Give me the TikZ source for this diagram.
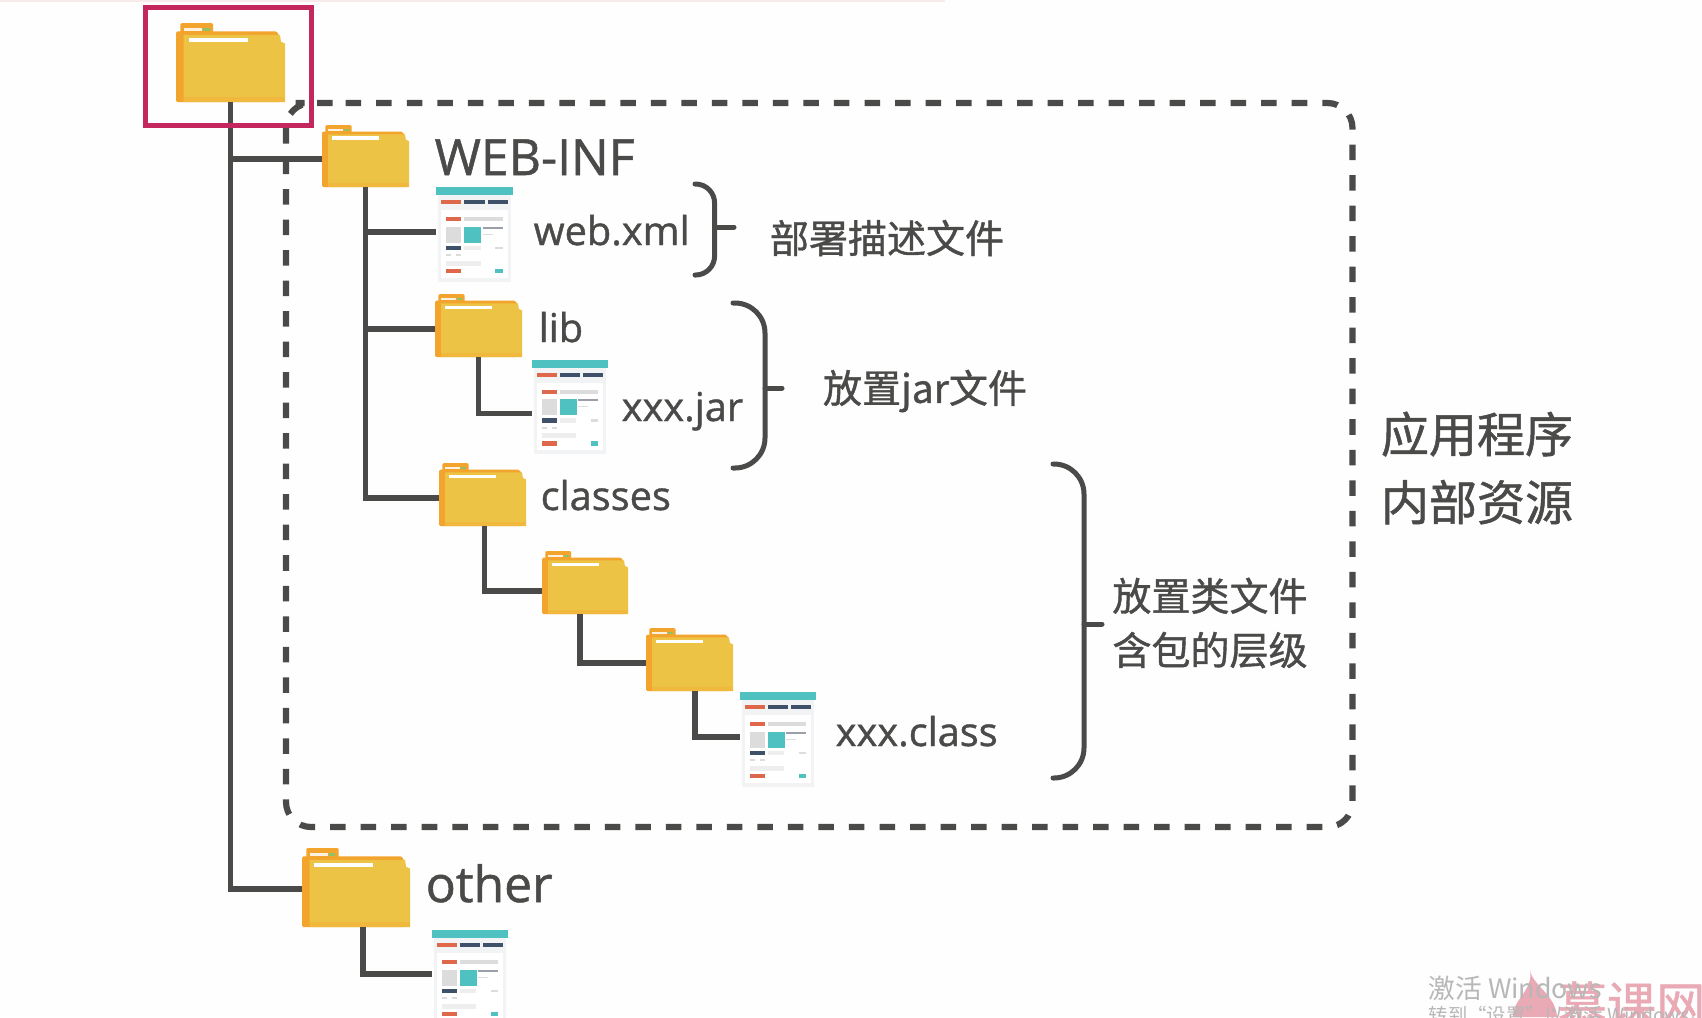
\documentclass[tikz,border=0pt]{standalone}
\usepackage{fontspec}
\setmainfont[FakeBold=1]{Open Sans}
\newfontfamily\cjk[FakeBold=1]{Noto Sans CJK SC}
\newfontfamily\cjkplain{Noto Sans CJK SC}
\usetikzlibrary{calc}

\definecolor{inkgray}{HTML}{4A4B49}
\definecolor{boxred}{HTML}{C3275D}
\definecolor{tabgreen}{HTML}{8FC06A}
\definecolor{foldback}{HTML}{F2A42C}
\definecolor{foldfront}{HTML}{ECC345}
\definecolor{foldedge}{HTML}{F0B93E}
\definecolor{docteal}{HTML}{4FC1C1}
\definecolor{docnavy}{HTML}{3F5169}
\definecolor{docred}{HTML}{E0684A}
\definecolor{docpanel}{HTML}{F2F3F4}
\definecolor{docgray}{HTML}{DCDCDC}
\definecolor{docline}{HTML}{9A9FA8}
\definecolor{docpale}{HTML}{EEEEEE}
\definecolor{markpink}{HTML}{E9A9B5}
\definecolor{markgray}{HTML}{B7B7B7}
\definecolor{pagewhite}{HTML}{FEFEFE}

\tikzset{
    link/.style={draw=inkgray, line width=0.058cm},
    bracket/.style={draw=inkgray, line width=0.05cm, line cap=round},
    itembox/.style={inner sep=0pt, outer sep=0pt},
    bigname/.style={inkgray, anchor=base west, inner sep=0pt, font=\fontsize{14.2}{17}\selectfont},
    filename/.style={inkgray, anchor=base west, inner sep=0pt, font=\fontsize{11.3}{14}\selectfont},
    note/.style={inkgray, inner sep=0pt, align=center, font=\cjk\fontsize{11.1}{15.4}\selectfont},
    sidenote/.style={inkgray, inner sep=0pt, align=center, font=\cjk\fontsize{13.66}{19.35}\selectfont},
}

% name, left, top, width, height
\newcommand{\folder}[5]{
    \begin{scope}[shift={(#2,#3)}, xscale=#4, yscale=#5]
        \fill[foldback, rounded corners=0.4pt] (0.04,0) rectangle (0.34,0.2);
        \fill[white!85!foldback] (0.07,0.065) rectangle (0.24,0.10);
        \fill[tabgreen] (0.25,0.065) rectangle (0.31,0.10);
        \fill[foldback, rounded corners=0.4pt] (0,0.106) -- (0.925,0.106) -- (0.96,0.2) -- (0.96,1) -- (0,1) -- cycle;
        \fill[foldfront] (0.07,0.15) -- (0.955,0.15) -- (0.96,0.235) -- (1,0.26) -- (1,1) -- (0.07,1) -- cycle;
        \fill[foldedge] (0.07,0.94) rectangle (1,1);
        \fill[white] (0.115,0.185) rectangle (0.66,0.24);
    \end{scope}
    \node[itembox, anchor=south west, minimum width=#4*0.01cm, minimum height=0.894*#5*0.01cm] (#1) at (#2,#3+#5) {};
}

% name, left, top, width, height
\newcommand{\docicon}[5]{
    \begin{scope}[shift={(#2,#3)}, xscale=#4, yscale=#5]
        \fill[docpanel] (0.02,0) rectangle (0.98,1);
        \fill[white] (0.06,0.24) rectangle (0.94,0.96);
        \fill[docteal] (0,0) rectangle (1,0.08);
        \foreach \c/\ua/\ub/\va/\vb in {
            docred/0.07/0.33/0.14/0.18, docnavy/0.37/0.63/0.14/0.18, docnavy/0.67/0.93/0.14/0.18,
            docred/0.13/0.33/0.32/0.36, docgray/0.37/0.87/0.32/0.36,
            docgray/0.13/0.33/0.42/0.59, docteal/0.37/0.59/0.42/0.59,
            docline/0.61/0.87/0.42/0.44, docgray/0.61/0.74/0.49/0.505,
            docnavy/0.13/0.33/0.62/0.665, docpale/0.37/0.58/0.62/0.665, docgray/0.77/0.87/0.63/0.655,
            docgray/0.13/0.2/0.71/0.73, docgray/0.26/0.33/0.71/0.73,
            docpale/0.13/0.58/0.78/0.83,
            docred/0.13/0.33/0.865/0.91, docteal/0.77/0.87/0.865/0.91}
            \fill[\c] (\ua,\va) rectangle (\ub,\vb);
    \end{scope}
    \node[itembox, anchor=north west, minimum width=#4*0.01cm, minimum height=#5*0.01cm] (#1) at (#2,#3) {};
}

\begin{document}
\begin{tikzpicture}[x=0.01cm, y=-0.01cm]
    \useasboundingbox (0,0) rectangle (1702,1017);
    \clip (0,0) rectangle (1702,1017);
    \fill[pagewhite] (0,0) rectangle (1702,1017);
    \fill[markpink!25] (0,0) rectangle (945,2);

    % application area
    \draw[inkgray, line width=0.062cm, dash pattern=on 0.155cm off 0.15cm, rounded corners=0.25cm]
        (320.7,103) -- (1352.5,103) -- (1352.5,827) -- (286,827) -- (286,103) -- cycle;

    % folders and files
    \folder{root}{176}{23}{109}{79}
    \folder{webinf}{322}{125}{87}{62}
    \folder{weblib}{435}{294}{87}{63}
    \folder{classes}{439}{463}{87}{63}
    \folder{pkgone}{542}{551}{86}{63}
    \folder{pkgtwo}{646}{628}{87}{63}
    \folder{other}{302}{848}{108}{79}
    \docicon{webxml}{436}{187}{77}{95}
    \docicon{xxxjar}{532}{360}{76}{94}
    \docicon{xxxclass}{740}{692}{76}{95}
    \docicon{otherdoc}{432}{930}{76}{95}

    % connectors
    \coordinate (webxmlin) at ($(webxml.west)+(0,-2.5)$);
    \coordinate (xxxjarin) at ($(xxxjar.west)+(0,6.5)$);
    \coordinate (xxxclassin) at ($(xxxclass.west)+(0,-2.5)$);
    \coordinate (otherdocin) at ($(otherdoc.west)+(0,-3.5)$);
    \coordinate (pkgonein) at ($(pkgone.west)+(0,5)$);
    \coordinate (otherin) at ($(other.west)+(0,-3)$);
    \coordinate (pkgoneout) at ($(pkgone.south)+(-5,0)$);
    \coordinate (pkgtwoout) at ($(pkgtwo.south)+(5.5,0)$);
    \coordinate (otherout) at ($(other.south)+(7,0)$);
    \coordinate (classesout) at ($(classes.south)+(2,0)$);
    \draw[link] (root.south) |- (otherin);
    \draw[link] (root.south |- webinf.west) -- (webinf.west);
    \draw[link] (webinf.south) |- (classes.west);
    \draw[link] (webinf.south |- webxmlin) -- (webxmlin);
    \draw[link] (webinf.south |- weblib.west) -- (weblib.west);
    \draw[link] (weblib.south) |- (xxxjarin);
    \draw[link] (classesout) |- (pkgonein);
    \draw[link] (pkgoneout) |- (pkgtwo.west);
    \draw[link] (pkgtwoout) |- (xxxclassin);
    \draw[link] (otherout) |- (otherdocin);

    % selection box
    \draw[boxred, line width=0.055cm] (145.5,7.5) rectangle (311.5,125.5);

    % names
    \node[bigname] (webinfname) at (434,175) {WEB-INF};
    \node[filename] (webxmlname) at (533,245) {web.xml};
    \node[filename] (libname) at (538,342) {lib};
    \node[filename] (jarname) at (621,421) {xxx.jar};
    \node[filename] (classesname) at (540,510) {classes};
    \node[filename] (classname) at (835,746) {xxx.class};
    \node[bigname] (othername) at (425,902) {other};

    % brackets and what they say
    \draw[bracket, rounded corners=0.19cm] (695,184) -- (714.6,184) -- (714.6,275) -- (695,275);
    \draw[bracket] (714.6,227) -- (734,227);
    \node[note] (webnote) at (887,238) {部署描述文件};
    \draw[bracket, rounded corners=0.3cm] (733,303) -- (765,303) -- (765,468) -- (733,468);
    \draw[bracket] (765,388) -- (782,388);
    \node[note] (jarnote) at (925,391) {放置jar文件};
    \draw[bracket, rounded corners=0.3cm] (1053,464) -- (1084,464) -- (1084,778) -- (1053,778);
    \draw[bracket] (1084,624) -- (1102,624);
    \node[note] (classnote) at (1210,623) {放置类文件\\含包的层级};
    \node[sidenote] (sidelabel) at (1477,468) {应用程序\\内部资源};

    % corner marks of the recording
    \fill[markpink] (1530,970) .. controls (1532,985) and (1556,995) .. (1557,1017) -- (1513,1017) .. controls (1512,1000) and (1534,990) .. cycle;
    \node[markpink, anchor=base west, inner sep=0pt, font=\cjk\fontsize{14}{16}\selectfont] (markname) at (1557,1023) {慕课网};
    \node[markgray, anchor=base west, inner sep=0pt, font=\cjkplain\fontsize{7.6}{9}\selectfont] (markone) at (1428,998) {激活 Windows};
    \node[markgray, anchor=base west, inner sep=0pt, font=\cjkplain\fontsize{5.5}{7}\selectfont] (marktwo) at (1428,1022) {转到“设置”以激活 Windows。};
\end{tikzpicture}
\end{document}
